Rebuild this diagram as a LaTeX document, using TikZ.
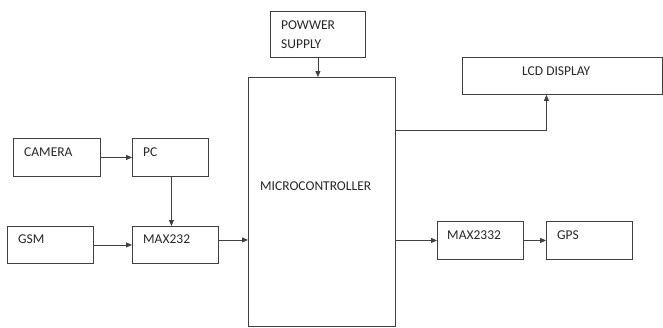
\documentclass[tikz,border=0pt]{standalone}
\usepackage{fontspec}
\setmainfont{Carlito}
\usetikzlibrary{arrows.meta, positioning, calc}
\definecolor{lineDark}{HTML}{404040}
\definecolor{textDark}{HTML}{262626}
\tikzset{
  arr/.style={-{Triangle[length=6pt, width=5pt]}, color=lineDark, line width=0.8pt},
  blk/.style={rectangle, draw=lineDark, line width=0.9pt, anchor=north west, inner sep=0pt},
  lbl/.style={anchor=west, inner sep=0pt, text=textDark, font=\fontsize{13.5}{16}\selectfont, align=left},
}
\begin{document}
\begin{tikzpicture}[x=1pt, y=-1pt]
        \useasboundingbox (0,0) rectangle (663,327);
        % Blocks
        \node[blk, minimum width=87pt, minimum height=38pt] (cam) at (13,138) {};
        \node[blk, minimum width=76pt, minimum height=38pt] (pc) at (132,138) {};
        \node[blk, minimum width=86pt, minimum height=37pt] (gsm) at (7,226) {};
        \node[blk, minimum width=86pt, minimum height=37pt] (max) at (132,226) {};
        \node[blk, minimum width=95pt, minimum height=46pt] (pwr) at (270,11) {};
        \node[blk, minimum width=147pt, minimum height=249pt] (micro) at (248,77) {};
        \node[blk, minimum width=200pt, minimum height=37pt] (lcd) at (462,57) {};
        \node[blk, minimum width=86pt, minimum height=38pt] (mxb) at (437,221) {};
        \node[blk, minimum width=86pt, minimum height=38pt] (gps) at (546,221) {};
        % Labels
        \node[lbl] (camtxt) at (24,152) {CAMERA};
        \node[lbl] (pctxt) at (143,152) {PC};
        \node[lbl] (gsmtxt) at (18,239) {GSM};
        \node[lbl] (maxtxt) at (143,239) {MAX232};
        \node[lbl] (pwrtxt) at (281,35) {POWWER\\[3pt]SUPPLY};
        \node[lbl] (microtxt) at (260,186) {MICROCONTROLLER};
        \node[lbl] (lcdtxt) at (522,71) {LCD DISPLAY};
        \node[lbl] (mxbtxt) at (447,235) {MAX2332};
        \node[lbl] (gpstxt) at (557,235) {GPS};
        % Connections
        \draw[arr] (cam) -- (pc);
        \draw[arr] ([xshift=1pt]pc.south) -- ([xshift=1pt]pc.south |- max.north);
        \draw[arr] (gsm) -- (max);
        \draw[arr] ([yshift=5pt]max.east) -- ([yshift=5pt]max.east -| micro.west);
        \draw[arr] (pwr.south) -- (pwr.south |- micro.north);
        \draw[arr] ([yshift=-53pt]micro.north east) -| ([xshift=-16pt]lcd.south);
        \draw[arr] (micro.east |- mxb.west) -- (mxb.west);
        \draw[arr] (mxb) -- (gps);
\end{tikzpicture}
\end{document}
